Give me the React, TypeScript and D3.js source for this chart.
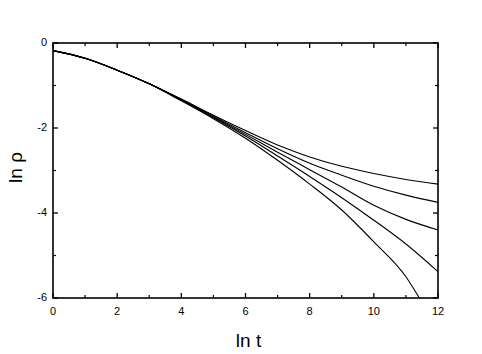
import { useMemo } from "react";
import * as d3 from "d3";

const WIDTH = 482;
const HEIGHT = 354;
const MARGIN = { top: 43, right: 44, bottom: 56, left: 53 };

// ln t sample points (shared by the curves)
const lnT = [0, 1, 2, 3, 4, 5, 6, 7, 8, 9, 10, 11, 12];

// ln rho for each curve, top to bottom
const curve1 = [-0.18, -0.36, -0.64, -0.96, -1.32, -1.7, -2.06, -2.4, -2.68, -2.9, -3.07, -3.21, -3.32];
const curve2 = [-0.18, -0.36, -0.64, -0.96, -1.33, -1.72, -2.11, -2.49, -2.83, -3.11, -3.37, -3.58, -3.75];
const curve3 = [-0.18, -0.36, -0.64, -0.96, -1.34, -1.74, -2.15, -2.57, -2.98, -3.39, -3.82, -4.15, -4.4];
const curve4 = [-0.18, -0.36, -0.64, -0.96, -1.35, -1.76, -2.19, -2.66, -3.14, -3.64, -4.17, -4.73, -5.38];
// last curve leaves the frame near ln t = 11.4
const curve5T = [0, 1, 2, 3, 4, 5, 6, 7, 8, 9, 10, 11, 11.42];
const curve5 = [-0.18, -0.36, -0.64, -0.96, -1.36, -1.78, -2.24, -2.76, -3.32, -3.93, -4.68, -5.5, -6.0];

const xTicks = [0, 2, 4, 6, 8, 10, 12];
const xMinor = [1, 3, 5, 7, 9, 11];
const yTicks = [0, -2, -4, -6];
const yMinor = [-1, -3, -5];

const FONT = "'Liberation Sans', Arial, sans-serif";

export default function App() {
  const boundsWidth = WIDTH - MARGIN.left - MARGIN.right;
  const boundsHeight = HEIGHT - MARGIN.top - MARGIN.bottom;

  const xScale = useMemo(() => d3.scaleLinear().domain([0, 12]).range([0, boundsWidth]), [boundsWidth]);
  const yScale = useMemo(() => d3.scaleLinear().domain([-6, 0]).range([boundsHeight, 0]), [boundsHeight]);

  const lineGen = d3
    .line<[number, number]>()
    .x((d) => xScale(d[0]))
    .y((d) => yScale(d[1]))
    .curve(d3.curveMonotoneX);

  const series: [number, number][][] = [
    lnT.map((t, i) => [t, curve1[i]]),
    lnT.map((t, i) => [t, curve2[i]]),
    lnT.map((t, i) => [t, curve3[i]]),
    lnT.map((t, i) => [t, curve4[i]]),
    curve5T.map((t, i) => [t, curve5[i]]),
  ];

  const major = 5;
  const minor = 3;

  return (
    <svg width={WIDTH} height={HEIGHT} style={{ position: "absolute", left: 0, top: 0 }}>
      <rect width={WIDTH} height={HEIGHT} fill="white" />
      <g transform={`translate(${MARGIN.left},${MARGIN.top})`}>
        <defs>
          <clipPath id="plot-clip">
            <rect x={0} y={0} width={boundsWidth} height={boundsHeight} />
          </clipPath>
        </defs>

        <g clipPath="url(#plot-clip)">
          {series.map((s, i) => (
            <path key={i} d={lineGen(s) ?? ""} fill="none" stroke="black" strokeWidth={1.1} />
          ))}
        </g>

        {/* ticks, all pointing inward */}
        {xTicks.map((t) => (
          <g key={"xt" + t} stroke="black" strokeWidth={1.3}>
            <line x1={xScale(t)} x2={xScale(t)} y1={boundsHeight} y2={boundsHeight - major} />
            <line x1={xScale(t)} x2={xScale(t)} y1={0} y2={major} />
          </g>
        ))}
        {xMinor.map((t) => (
          <g key={"xm" + t} stroke="black" strokeWidth={1.2}>
            <line x1={xScale(t)} x2={xScale(t)} y1={boundsHeight} y2={boundsHeight - minor} />
            <line x1={xScale(t)} x2={xScale(t)} y1={0} y2={minor} />
          </g>
        ))}
        {yTicks.map((t) => (
          <g key={"yt" + t} stroke="black" strokeWidth={1.3}>
            <line x1={0} x2={major} y1={yScale(t)} y2={yScale(t)} />
            <line x1={boundsWidth} x2={boundsWidth - major} y1={yScale(t)} y2={yScale(t)} />
          </g>
        ))}
        {yMinor.map((t) => (
          <g key={"ym" + t} stroke="black" strokeWidth={1.2}>
            <line x1={0} x2={minor} y1={yScale(t)} y2={yScale(t)} />
            <line x1={boundsWidth} x2={boundsWidth - minor} y1={yScale(t)} y2={yScale(t)} />
          </g>
        ))}

        <rect x={0} y={0} width={boundsWidth} height={boundsHeight} fill="none" stroke="black" strokeWidth={1.6} />

        {xTicks.map((t) => (
          <text key={"xl" + t} x={xScale(t)} y={boundsHeight + 17} textAnchor="middle" fontFamily={FONT} fontSize={11}>
            {t}
          </text>
        ))}
        {yTicks.map((t) => (
          <text
            key={"yl" + t}
            x={-6}
            y={yScale(t)}
            textAnchor="end"
            dominantBaseline="middle"
            fontFamily={FONT}
            fontSize={11}
          >
            {t}
          </text>
        ))}

        <text x={boundsWidth / 2 + 3} y={boundsHeight + 49} textAnchor="middle" fontFamily={FONT} fontSize={19}>
          ln t
        </text>
        <text
          transform={`translate(${-31},${boundsHeight / 2 - 3}) rotate(-90)`}
          textAnchor="middle"
          fontFamily={FONT}
          fontSize={19}
        >
          ln ρ
        </text>
      </g>
    </svg>
  );
}
